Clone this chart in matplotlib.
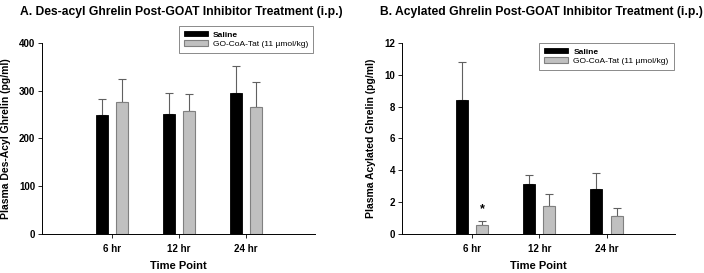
import numpy as np
import matplotlib
matplotlib.use('Agg')
from matplotlib import pyplot as plt

plt.rcParams['font.family'] = ['Liberation Sans', 'DejaVu Sans']
plt.rcParams['font.weight'] = 'bold'

# data
timepoints = ['6 hr', '12 hr', '24 hr']
series = ['Saline', 'GO-CoA-Tat (11 \u00b5mol/kg)']

desacyl_saline = [250, 252, 296]
desacyl_saline_err = [33, 44, 55]
desacyl_goat = [277, 257, 266]
desacyl_goat_err = [47, 37, 53]

acyl_saline = [8.4, 3.15, 2.85]
acyl_saline_err = [2.4, 0.55, 0.95]
acyl_goat = [0.55, 1.75, 1.1]
acyl_goat_err = [0.25, 0.75, 0.5]

fig = plt.figure(figsize=(7.04, 2.73), dpi=100)
axA = fig.add_axes([0.060, 0.143, 0.387, 0.700])
axB = fig.add_axes([0.571, 0.143, 0.388, 0.700])

x = np.arange(1, len(timepoints) + 1)
w = 0.18
off = 0.15


def draw(ax, s, se, g, ge, ylim, yticks, ylabel, legend_y):
    ax.bar(x - off, s, w, color='black', edgecolor='black', linewidth=0.6,
           label=series[0], zorder=2)
    ax.bar(x + off, g, w, color='#c0c0c0', edgecolor='#808080', linewidth=0.8,
           label=series[1], zorder=2)
    ax.errorbar(x - off, s, yerr=[np.zeros(len(s)), se], fmt='none',
                ecolor='#606060', elinewidth=0.8, capsize=3, capthick=0.8, zorder=1)
    ax.errorbar(x + off, g, yerr=[np.zeros(len(g)), ge], fmt='none',
                ecolor='#606060', elinewidth=0.8, capsize=3, capthick=0.8, zorder=1)
    ax.set_xlim(-0.04, 4.02)
    ax.set_ylim(*ylim)
    ax.set_yticks(yticks)
    ax.set_xticks(x)
    ax.set_xticklabels(timepoints, fontsize=7, fontweight='bold')
    ax.tick_params(axis='y', labelsize=7, length=3, width=0.6, pad=2)
    ax.tick_params(axis='x', length=3, width=0.6, pad=4)
    for t in ax.get_yticklabels():
        t.set_fontweight('bold')
    ax.spines['top'].set_visible(False)
    ax.spines['right'].set_visible(False)
    ax.spines['left'].set_linewidth(0.7)
    ax.spines['bottom'].set_linewidth(0.7)
    ax.set_xlabel('Time Point', fontsize=8, fontweight='bold', labelpad=5)
    ax.set_ylabel(ylabel, fontsize=7.5, fontweight='bold', labelpad=6)
    leg = ax.legend(loc='upper right', bbox_to_anchor=(1.01, legend_y),
                    fontsize=6, frameon=True, fancybox=False, edgecolor='#555555',
                    handlelength=2.9, handleheight=0.6, borderpad=0.6,
                    labelspacing=0.2, handletextpad=0.6)
    leg.get_frame().set_linewidth(0.6)
    leg.get_texts()[0].set_fontweight('bold')
    leg.get_texts()[1].set_fontweight('normal')


draw(axA, desacyl_saline, desacyl_saline_err, desacyl_goat, desacyl_goat_err,
     (0, 400), np.arange(0, 401, 100), 'Plasma Des-Acyl Ghrelin (pg/ml)', 1.11)
draw(axB, acyl_saline, acyl_saline_err, acyl_goat, acyl_goat_err,
     (0, 12), np.arange(0, 13, 2), 'Plasma Acylated Ghrelin (pg/ml)', 1.02)

# significance marker
axB.text(x[0] + off, acyl_goat[0] + acyl_goat_err[0] + 0.35, '*',
         ha='center', va='bottom', fontsize=9, fontweight='bold')

fig.text(0.028, 0.955, 'A. Des-acyl Ghrelin Post-GOAT Inhibitor Treatment (i.p.)',
         fontsize=8.7, fontweight='bold', va='center')
fig.text(0.540, 0.955, 'B. Acylated Ghrelin Post-GOAT Inhibitor Treatment (i.p.)',
         fontsize=8.7, fontweight='bold', va='center')

fig.savefig('out.png', dpi=100)
